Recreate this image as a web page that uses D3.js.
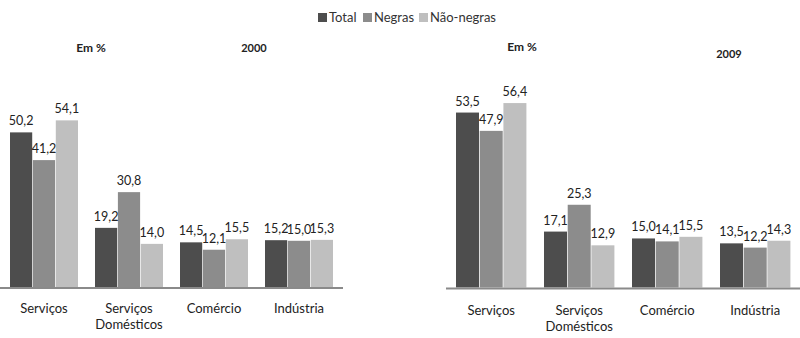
<!DOCTYPE html>
<html>
<head>
<meta charset="utf-8">
<script src="https://cdn.jsdelivr.net/npm/d3@7"></script>
<style>
  body { margin: 0; background: #fff; }
  svg { display: block; font-family: Lato, "Open Sans", sans-serif; }
</style>
</head>
<body>
<div id="chart"></div>
<script>
// data
const CATEGORIES = ["Serviços", "Serviços Domésticos", "Comércio", "Indústria"];
const SERIES = ["Total", "Negras", "Não-negras"];
const COLORS = ["#4d4d4d", "#8c8c8c", "#bfbfbf"];

const VALUES_2000 = [
  [50.2, 41.2, 54.1],
  [19.2, 30.8, 14.0],
  [14.5, 12.1, 15.5],
  [15.2, 15.0, 15.3]
];
const VALUES_2009 = [
  [53.5, 47.9, 56.4],
  [17.1, 25.3, 12.9],
  [15.0, 14.1, 15.5],
  [13.5, 12.2, 14.3]
];

var width = 800,
    height = 338;

var svg = d3.select("#chart").append("svg")
  .attr("width", width)
  .attr("height", height);

// legend
var legendX = [318, 363, 419];
var legend = svg.append("g")
  .selectAll("g")
  .data(SERIES)
  .enter().append("g")
  .attr("transform", (d, i) => "translate(" + legendX[i] + ",0)");

legend.append("rect")
  .attr("y", 13)
  .attr("width", 9)
  .attr("height", 9)
  .attr("fill", (d, i) => COLORS[i]);

legend.append("text")
  .attr("x", 11)
  .attr("y", 22)
  .attr("font-size", 13)
  .attr("fill", "#333")
  .text(d => d);

function drawPanel(opts) {
  var g = svg.append("g");

  var x0 = d3.scaleBand()
    .domain(CATEGORIES)
    .range(opts.xRange)
    .paddingInner(0.2)
    .paddingOuter(0.1);

  var x1 = d3.scaleBand()
    .domain(SERIES)
    .range([0, x0.bandwidth()])
    .paddingInner(0.03);

  var y = d3.scaleLinear()
    .domain([0, 60])
    .range([opts.baseY, opts.baseY - 60 * opts.pxPerUnit]);

  var groups = g.selectAll("g.cat")
    .data(opts.values)
    .enter().append("g")
    .attr("transform", (d, i) => "translate(" + x0(CATEGORIES[i]) + ",0)");

  groups.selectAll("rect")
    .data(d => d)
    .enter().append("rect")
    .attr("x", (d, i) => x1(SERIES[i]))
    .attr("y", d => y(d))
    .attr("width", x1.bandwidth())
    .attr("height", d => y(0) - y(d))
    .attr("fill", (d, i) => COLORS[i]);

  groups.selectAll("text.val")
    .data(d => d)
    .enter().append("text")
    .attr("class", "val")
    .attr("x", (d, i) => x1(SERIES[i]) + x1.bandwidth() / 2)
    .attr("y", d => y(d) - 7)
    .attr("text-anchor", "middle")
    .attr("font-size", 12.5)
    .attr("fill", "#222")
    .text(d => d.toFixed(1).replace(".", ","));

  // axis line
  g.append("line")
    .attr("x1", opts.axisX[0])
    .attr("x2", opts.axisX[1])
    .attr("y1", y(0) + 1)
    .attr("y2", y(0) + 1)
    .attr("stroke", "#8a8a8a")
    .attr("stroke-width", 2);

  // category labels
  var labels = g.selectAll("text.cat")
    .data(CATEGORIES)
    .enter().append("text")
    .attr("class", "cat")
    .attr("x", d => x0(d) + x0.bandwidth() / 2)
    .attr("y", opts.labelY)
    .attr("text-anchor", "middle")
    .attr("font-size", 13)
    .attr("fill", "#222");

  labels.each(function(d) {
    var words = d.split(" ");
    var t = d3.select(this);
    words.forEach(function(w, k) {
      t.append("tspan")
        .attr("x", t.attr("x"))
        .attr("dy", k === 0 ? 0 : 16)
        .text(w);
    });
  });

  // titles
  g.append("text")
    .attr("x", opts.unitX)
    .attr("y", opts.unitY)
    .attr("text-anchor", "middle")
    .attr("font-size", 12)
    .attr("font-weight", "bold")
    .attr("fill", "#222")
    .text("Em %");

  g.append("text")
    .attr("x", opts.yearX)
    .attr("y", opts.yearY)
    .attr("text-anchor", "middle")
    .attr("font-size", 11)
    .attr("font-weight", "bold")
    .attr("fill", "#222")
    .text(opts.year);
}

drawPanel({
  values: VALUES_2000, year: "2000",
  xRange: [1.5, 341.5], axisX: [0, 343],
  baseY: 287, pxPerUnit: 3.08, labelY: 313,
  unitX: 91, unitY: 52, yearX: 254, yearY: 52
});

drawPanel({
  values: VALUES_2009, year: "2009",
  xRange: [447.2, 799.2], axisX: [446, 800],
  baseY: 287.5, pxPerUnit: 3.27, labelY: 315,
  unitX: 522, unitY: 51, yearX: 729, yearY: 58
});
</script>
</body>
</html>
